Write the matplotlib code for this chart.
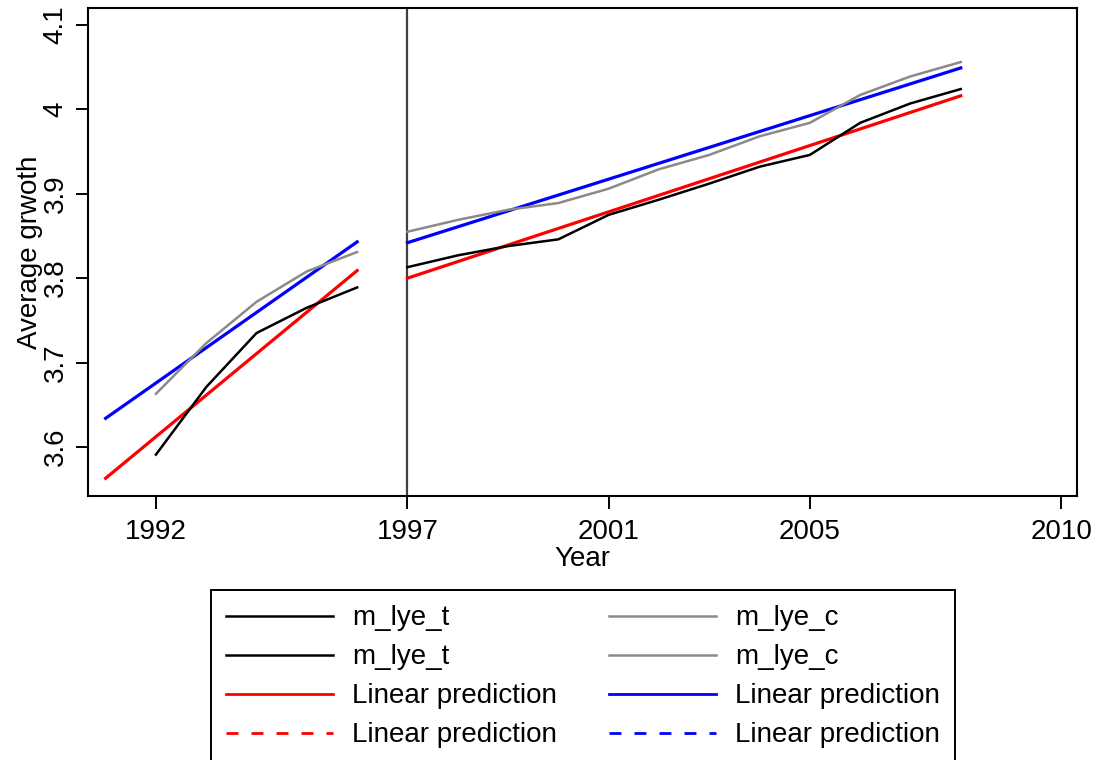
import matplotlib.pyplot as plt
from matplotlib.lines import Line2D

plt.rcParams['font.family'] = ['Liberation Sans', 'DejaVu Sans']

# period before the break (1997)
years_t_pre = [1992, 1993, 1994, 1995, 1996]
m_lye_t_pre = [3.591, 3.671, 3.735, 3.765, 3.789]
m_lye_c_pre = [3.663, 3.723, 3.772, 3.808, 3.831]
fit_years_pre = [1991, 1996]
fit_t_pre = [3.563, 3.809]
fit_c_pre = [3.634, 3.843]

# period after the break
years_post = [1997, 1998, 1999, 2000, 2001, 2002, 2003, 2004, 2005, 2006, 2007, 2008]
m_lye_t_post = [3.813, 3.827, 3.838, 3.846, 3.875, 3.893, 3.912, 3.932, 3.946, 3.984, 4.007, 4.024]
m_lye_c_post = [3.855, 3.869, 3.881, 3.889, 3.906, 3.929, 3.946, 3.968, 3.984, 4.017, 4.039, 4.056]
fit_years_post = [1997, 2008]
fit_t_post = [3.800, 4.016]
fit_c_post = [3.842, 4.049]

xticks = [1992, 1997, 2001, 2005, 2010]
yticks = [3.6, 3.7, 3.8, 3.9, 4.0, 4.1]
ytick_labels = ['3.6', '3.7', '3.8', '3.9', '4', '4.1']

gray = '#8a8a8a'

fig = plt.figure(figsize=(11.03, 7.6), dpi=100)
ax = fig.add_axes([88 / 1103, 1 - 496 / 760, (1077 - 88) / 1103, (496 - 8) / 760])

ax.axvline(1997, color='#404040', lw=1.6, zorder=1)

ax.plot(fit_years_pre, fit_t_pre, color='red', lw=2.3)
ax.plot(fit_years_post, fit_t_post, color='red', lw=2.3)
ax.plot(fit_years_pre, fit_c_pre, color='blue', lw=2.3)
ax.plot(fit_years_post, fit_c_post, color='blue', lw=2.3)
h_t1, = ax.plot(years_t_pre, m_lye_t_pre, color='black', lw=1.8)
h_t2, = ax.plot(years_post, m_lye_t_post, color='black', lw=1.8)
h_c1, = ax.plot(years_t_pre, m_lye_c_pre, color=gray, lw=1.8)
h_c2, = ax.plot(years_post, m_lye_c_post, color=gray, lw=1.8)

ax.set_xlim(1990.65, 2010.31)
ax.set_ylim(3.542, 4.120)
ax.set_xticks(xticks)
ax.set_yticks(yticks)
ax.set_yticklabels(ytick_labels, rotation=90, va='center')
ax.tick_params(axis='both', direction='out', length=9, width=1.4, labelsize=20)
ax.tick_params(axis='y', pad=5)
ax.tick_params(axis='x', pad=7.5)
for s in ax.spines.values():
    s.set_linewidth(1.5)

ax.set_xlabel('Year', fontsize=20, labelpad=1)
ax.set_ylabel('Average grwoth', fontsize=20, labelpad=0)

dash = (0, (4.3, 4.7))
handles = [
    h_t1, h_t2,
    Line2D([], [], color='red', lw=2),
    Line2D([], [], color='red', lw=2, ls=dash),
    h_c1, h_c2,
    Line2D([], [], color='blue', lw=2),
    Line2D([], [], color='blue', lw=2, ls=dash),
]
labels = ['m_lye_t', 'm_lye_t', 'Linear prediction', 'Linear prediction',
          'm_lye_c', 'm_lye_c', 'Linear prediction', 'Linear prediction']
leg = fig.legend(handles, labels, ncol=2, loc='upper center',
                 bbox_to_anchor=(583 / 1103, 1 - 590 / 760),
                 fontsize=20, frameon=True, fancybox=False, edgecolor='black',
                 framealpha=1, handlelength=3.85, handletextpad=0.67,
                 columnspacing=1.9, labelspacing=0.47, borderpad=0.55,
                 borderaxespad=0)
leg.get_frame().set_linewidth(1.4)

fig.savefig('out.png', dpi=100)
